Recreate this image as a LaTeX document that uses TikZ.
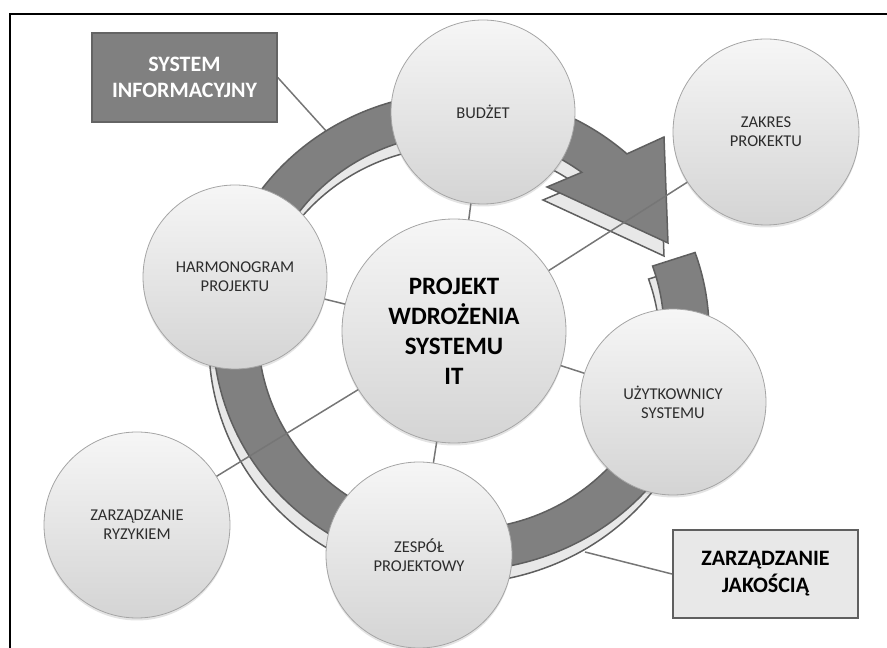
\documentclass[tikz,border=0pt]{standalone}
\usepackage{fontspec}
\setmainfont{Carlito}
\usetikzlibrary{calc,shadows}
\pgfdeclarelayer{ringlayer}
\pgfdeclarelayer{links}
\pgfsetlayers{ringlayer,links,main}
\definecolor{ringdark}{RGB}{128,128,128}
\definecolor{ringlight}{RGB}{232,232,232}
\definecolor{ringline}{RGB}{95,95,95}
\definecolor{conn}{RGB}{118,118,118}
\definecolor{circline}{RGB}{165,165,165}
\definecolor{ctop}{RGB}{246,246,246}
\definecolor{cbot}{RGB}{212,212,212}
\definecolor{txt}{RGB}{45,45,45}
\definecolor{boxdark}{RGB}{128,128,128}
\definecolor{boxdarkline}{RGB}{100,100,100}
\definecolor{boxlight}{RGB}{232,232,232}
\definecolor{boxlightline}{RGB}{95,95,95}
\begin{document}
\begin{tikzpicture}[x=1pt,y=1pt,
  bubble/.style={circle, draw=circline, line width=0.8pt, top color=ctop, bottom color=cbot,
    inner sep=0pt, align=center, text=txt, minimum size=186pt,
    font=\fontsize{16.5}{19}\selectfont,
    drop shadow={shadow xshift=0pt, shadow yshift=-2.5pt, opacity=0.22}},
  hub/.style={bubble, minimum size=224pt, text=black, font=\fontsize{25}{30}\selectfont\bfseries},
  darkbox/.style={rectangle, fill=boxdark, draw=boxdarkline, line width=1.5pt, minimum width=185pt,
    minimum height=89pt, align=center, text=white, font=\fontsize{22}{26}\selectfont\bfseries},
  lightbox/.style={rectangle, fill=boxlight, draw=boxlightline, line width=2pt, minimum width=185pt,
    minimum height=88pt, align=center, text=black, font=\fontsize{22}{27}\selectfont\bfseries},
  link/.style={draw=conn, line width=1.5pt},
  ringface/.style={fill=ringdark, draw=ringline, line width=1.5pt, line join=miter},
  ringside/.style={fill=ringlight, draw=ringline, line width=1.5pt, line join=miter},
  frameline/.style={draw=black, line width=2.5pt}
]
\useasboundingbox (0,0) rectangle (887,648);
\draw[frameline] (10,-5) -- (10,634) -- (895,634);

\coordinate (rc) at (461,316.5);

% nodes
\node[hub] (c0) at (454,317) {PROJEKT\\WDROŻENIA\\SYSTEMU\\IT};
\node[bubble, minimum size=184pt] (bud) at (483,536) {BUDŻET};
\node[bubble] (zak) at (766,516) {ZAKRES\\PROKEKTU};
\node[bubble, minimum size=184pt] (har) at (235,371) {HARMONOGRAM\\PROJEKTU};
\node[bubble] (uzy) at (673,246) {UŻYTKOWNICY\\SYSTEMU};
\node[bubble] (ryz) at (137,123) {ZARZĄDZANIE\\RYZYKIEM};
\node[bubble] (zes) at (419,93) {ZESPÓŁ\\PROJEKTOWY};
\node[darkbox] (sys) at (184.5,570.5) {SYSTEM\\INFORMACYJNY};
\node[lightbox] (jak) at (765.5,74) {ZARZĄDZANIE\\JAKOŚCIĄ};

\begin{pgfonlayer}{ringlayer}
  \coordinate (sysend) at (327,516);
  \coordinate (jakend) at (585,96);
  \draw[link] (sys.east) -- (sysend);
  \draw[link] (jak.west) -- (jakend);
  % side (extruded) face, shifted copy
  \path[ringside, shift={(-4,-13)}] ([shift={(461,316.5)}]19.3:248 and 239)
      arc[start angle=19.3, end angle=-312, x radius=248pt, y radius=239pt]
      -- (664,511) -- (668,405) -- (547,461)
      -- ([shift={(461,316.5)}]53.5:203 and 198)
      arc[start angle=-306.5, end angle=19.3, x radius=203pt, y radius=198pt] -- cycle;
  % top face
  \path[ringface] ([shift={(461,316.5)}]19.3:248 and 239)
      arc[start angle=19.3, end angle=-312, x radius=248pt, y radius=239pt]
      -- (664,511) -- (668,405) -- (547,461)
      -- ([shift={(461,316.5)}]53.5:203 and 198)
      arc[start angle=-306.5, end angle=19.3, x radius=203pt, y radius=198pt] -- cycle;
\end{pgfonlayer}

\begin{pgfonlayer}{links}
  \draw[link] (c0.center) -- (bud.center);
  \draw[link] (c0.center) -- (zak.center);
  \draw[link] (c0.center) -- (har.center);
  \draw[link] (c0.center) -- (uzy.center);
  \draw[link] (c0.center) -- (ryz.center);
  \draw[link] (c0.center) -- (zes.center);
\end{pgfonlayer}
\end{tikzpicture}
\end{document}
